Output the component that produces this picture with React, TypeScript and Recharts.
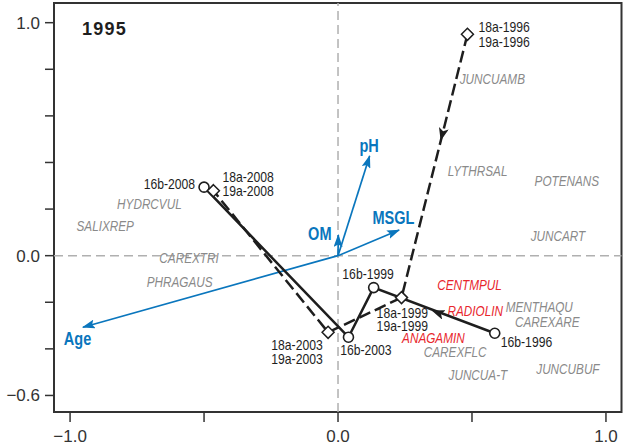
import React from "react";
import { ScatterChart, Scatter, XAxis, YAxis, ReferenceLine, ReferenceArea } from "recharts";

const xTicks = [-1, -0.5, 0, 0.5, 1];
const yTicks = [-0.6, -0.4, -0.2, 0, 0.2, 0.4, 0.6, 0.8, 1.0];
const xLabelled = [-1, 0, 1];
const yLabelled = [-0.6, 0, 1];

// site 16b trajectory (circles), 1996 -> 2008
const site16b = [
  { x: 0.585, y: -0.333, year: "1996" },
  { x: 0.133, y: -0.137, year: "1999" },
  { x: 0.039, y: -0.35, year: "2003" },
  { x: -0.5, y: 0.294, year: "2008" },
];

// sites 18a / 19a trajectory (diamonds), 1996 -> 2008
const site18a = [
  { x: 0.483, y: 0.95, year: "1996" },
  { x: 0.237, y: -0.18, year: "1999" },
  { x: -0.037, y: -0.329, year: "2003" },
  { x: -0.465, y: 0.279, year: "2008" },
];

// direction arrows on the trajectories: [from, arrow tip]
const arrow16b = [
  { x: 0.585, y: -0.333 },
  { x: 0.353, y: -0.237 },
];
const arrow18a = [
  { x: 0.483, y: 0.95 },
  { x: 0.384, y: 0.497 },
];

// environmental vectors
const envVectors = [
  { name: "Age", x: -0.952, y: -0.307, lx: -0.972, ly: -0.355 },
  { name: "pH", x: 0.118, y: 0.428, lx: 0.116, ly: 0.471 },
  { name: "MSGL", x: 0.228, y: 0.11, lx: 0.207, ly: 0.163 },
  { name: "OM", x: 0.001, y: 0.089, lx: -0.068, ly: 0.096 },
];

// species scores
const species = [
  { name: "HYDRCVUL", x: -0.704, y: 0.221 },
  { name: "SALIXREP", x: -0.869, y: 0.127 },
  { name: "CAREXTRI", x: -0.556, y: -0.011 },
  { name: "PHRAGAUS", x: -0.591, y: -0.114 },
  { name: "JUNCUAMB", x: 0.576, y: 0.757 },
  { name: "LYTHRSAL", x: 0.521, y: 0.364 },
  { name: "POTENANS", x: 0.854, y: 0.321 },
  { name: "JUNCART", x: 0.821, y: 0.082 },
  { name: "MENTHAQU", x: 0.751, y: -0.223 },
  { name: "CAREXARE", x: 0.781, y: -0.286 },
  { name: "CAREXFLC", x: 0.437, y: -0.412 },
  { name: "JUNCUA-T", x: 0.522, y: -0.512 },
  { name: "JUNCUBUF", x: 0.858, y: -0.488 },
];
const indicatorSpecies = [
  { name: "CENTMPUL", x: 0.491, y: -0.126 },
  { name: "RADIOLIN", x: 0.512, y: -0.24 },
  { name: "ANAGAMIN", x: 0.356, y: -0.355 },
];

const SANS = "'Liberation Sans', Arial, sans-serif";
const INK = "#1e1e1e";
const BLUE = "#0a76bd";
const GREY = "#8a8a8a";
const RED = "#e8262d";
const SQUEEZE = 0.84; // the figure uses a condensed face

const X_DOMAIN: [number, number] = [-1.06, 1.058];
const Y_DOMAIN: [number, number] = [-0.671, 1.0845];

type Anchor = "start" | "middle" | "end";
type LabelPos = { dx: number; dy: number; anchor: Anchor; gap?: number };

const layout16b: Record<string, LabelPos> = {
  "1996": { dx: 6, dy: 8.4, anchor: "start" },
  "1999": { dx: -5.6, dy: -13.3, anchor: "middle" },
  "2003": { dx: -8.3, dy: 13, anchor: "start" },
  "2008": { dx: -9, dy: -3, anchor: "end" },
};
const layout18a: Record<string, LabelPos> = {
  "1996": { dx: 11, dy: -7.3, anchor: "start", gap: 15 },
  "1999": { dx: 0.8, dy: 16, anchor: "middle", gap: 12.8 },
  "2003": { dx: -5.4, dy: 13.3, anchor: "end", gap: 13.3 },
  "2008": { dx: 9, dy: -14, anchor: "start", gap: 14 },
};

// condensed text: horizontal squeeze around the anchor point
function NText(props: {
  x: number;
  y: number;
  anchor?: Anchor;
  size: number;
  fill: string;
  italic?: boolean;
  bold?: boolean;
  squeeze?: number;
  children: React.ReactNode;
}) {
  const { x, y, anchor = "middle", size, fill, italic, bold, squeeze = SQUEEZE, children } = props;
  return (
    <text
      transform={`translate(${x} ${y}) scale(${squeeze} 1)`}
      x={0}
      y={0}
      textAnchor={anchor}
      dominantBaseline="central"
      fontFamily={SANS}
      fontSize={size}
      fontStyle={italic ? "italic" : "normal"}
      fontWeight={bold ? "bold" : "normal"}
      fill={fill}
    >
      {children}
    </text>
  );
}

function CircleSite(props: any) {
  const { cx, cy, payload } = props;
  const l = layout16b[payload.year];
  return (
    <g>
      <circle cx={cx} cy={cy} r={5} fill="#fff" stroke={INK} strokeWidth={1.6} />
      <NText x={cx + l.dx} y={cy + l.dy} anchor={l.anchor} size={14.5} fill={INK}>
        {`16b-${payload.year}`}
      </NText>
    </g>
  );
}

function DiamondSite(props: any) {
  const { cx, cy, payload } = props;
  const l = layout18a[payload.year];
  const d = 6;
  return (
    <g>
      <polygon
        points={`${cx},${cy - d} ${cx + d},${cy} ${cx},${cy + d} ${cx - d},${cy}`}
        fill="#fff"
        stroke={INK}
        strokeWidth={1.5}
      />
      <NText x={cx + l.dx} y={cy + l.dy} anchor={l.anchor} size={14.5} fill={INK}>
        {`18a-${payload.year}`}
      </NText>
      <NText x={cx + l.dx} y={cy + l.dy + (l.gap ?? 14)} anchor={l.anchor} size={14.5} fill={INK}>
        {`19a-${payload.year}`}
      </NText>
    </g>
  );
}

const speciesShape = (color: string) => (props: any) => (
  <NText x={props.cx} y={props.cy} size={14} fill={color} italic>
    {props.payload.name}
  </NText>
);

const envLabelShape = (props: any) => (
  <NText x={props.cx} y={props.cy} size={17.5} fill={BLUE} bold squeeze={0.83}>
    {props.payload.name}
  </NText>
);

const noShape = () => <g />;

const fmt = (v: number) => v.toFixed(1).replace("-", "\u2212");

export default function App() {
  const envLabels = envVectors.map((v) => ({ x: v.lx, y: v.ly, name: v.name }));
  return (
    <div style={{ position: "absolute", left: 0, top: 0, width: 623, height: 445, background: "#fff" }}>
      <ScatterChart width={623} height={445} margin={{ top: 3, right: 1.5, bottom: 3, left: 0 }}>
        <defs>
          <marker id="ahBlack" markerWidth="13" markerHeight="10" refX="12" refY="5" orient="auto" markerUnits="userSpaceOnUse">
            <path d="M0,0 L13,5 L0,10 L3,5 Z" fill={INK} />
          </marker>
          <marker id="ahBlue" markerWidth="13" markerHeight="9" refX="12" refY="4.5" orient="auto" markerUnits="userSpaceOnUse">
            <path d="M0,0 L13,4.5 L0,9 L2.5,4.5 Z" fill={BLUE} />
          </marker>
        </defs>
        <XAxis
          type="number"
          dataKey="x"
          domain={X_DOMAIN}
          ticks={xTicks}
          allowDataOverflow
          height={30}
          axisLine={false}
          tickSize={10}
          tickMargin={8}
          tickLine={{ stroke: "#333", strokeWidth: 1.5 }}
          tick={{ fontSize: 17, fill: "#333", fontFamily: SANS }}
          tickFormatter={(v: number) => (xLabelled.includes(v) ? fmt(v) : "")}
        />
        <YAxis
          type="number"
          dataKey="y"
          domain={Y_DOMAIN}
          ticks={yTicks}
          allowDataOverflow
          width={54}
          axisLine={false}
          tickSize={9}
          tickMargin={5}
          tickLine={{ stroke: "#333", strokeWidth: 1.5 }}
          tick={{ fontSize: 17, fill: "#333", fontFamily: SANS }}
          tickFormatter={(v: number) => (yLabelled.some((t) => Math.abs(t - v) < 1e-9) ? fmt(v) : "")}
        />
        <ReferenceLine x={0} stroke="#b0b0b0" strokeWidth={1.5} strokeDasharray="9 5" />
        <ReferenceLine y={0} stroke="#b0b0b0" strokeWidth={1.5} strokeDasharray="9 5" />
        <ReferenceArea
          x1={X_DOMAIN[0]}
          x2={X_DOMAIN[1]}
          y1={Y_DOMAIN[0]}
          y2={Y_DOMAIN[1]}
          fill="none"
          fillOpacity={0}
          stroke="#333"
          strokeWidth={2}
          ifOverflow="visible"
        />

        <Scatter data={species} shape={speciesShape(GREY)} isAnimationActive={false} />
        <Scatter data={indicatorSpecies} shape={speciesShape(RED)} isAnimationActive={false} />

        {envVectors.map((v) => (
          <Scatter
            key={v.name}
            data={[{ x: 0, y: 0 }, { x: v.x, y: v.y }]}
            shape={noShape}
            line={{ stroke: BLUE, strokeWidth: 1.7, markerEnd: "url(#ahBlue)" }}
            isAnimationActive={false}
          />
        ))}
        <Scatter data={envLabels} shape={envLabelShape} isAnimationActive={false} />

        <Scatter
          data={site16b}
          shape={CircleSite}
          line={{ stroke: INK, strokeWidth: 2.5 }}
          isAnimationActive={false}
        />
        <Scatter
          data={arrow16b}
          shape={noShape}
          line={{ stroke: "none", markerEnd: "url(#ahBlack)" }}
          isAnimationActive={false}
        />
        <Scatter
          data={site18a}
          shape={DiamondSite}
          line={{ stroke: INK, strokeWidth: 2.5, strokeDasharray: "12 5" }}
          isAnimationActive={false}
        />
        <Scatter
          data={arrow18a}
          shape={noShape}
          line={{ stroke: "none", markerEnd: "url(#ahBlack)" }}
          isAnimationActive={false}
        />
      </ScatterChart>
      <div
        style={{
          position: "absolute",
          left: 82,
          top: 17,
          fontFamily: SANS,
          fontWeight: "bold",
          fontSize: 18,
          letterSpacing: 1.2,
          color: INK,
          lineHeight: "24px",
        }}
      >
        1995
      </div>
    </div>
  );
}
